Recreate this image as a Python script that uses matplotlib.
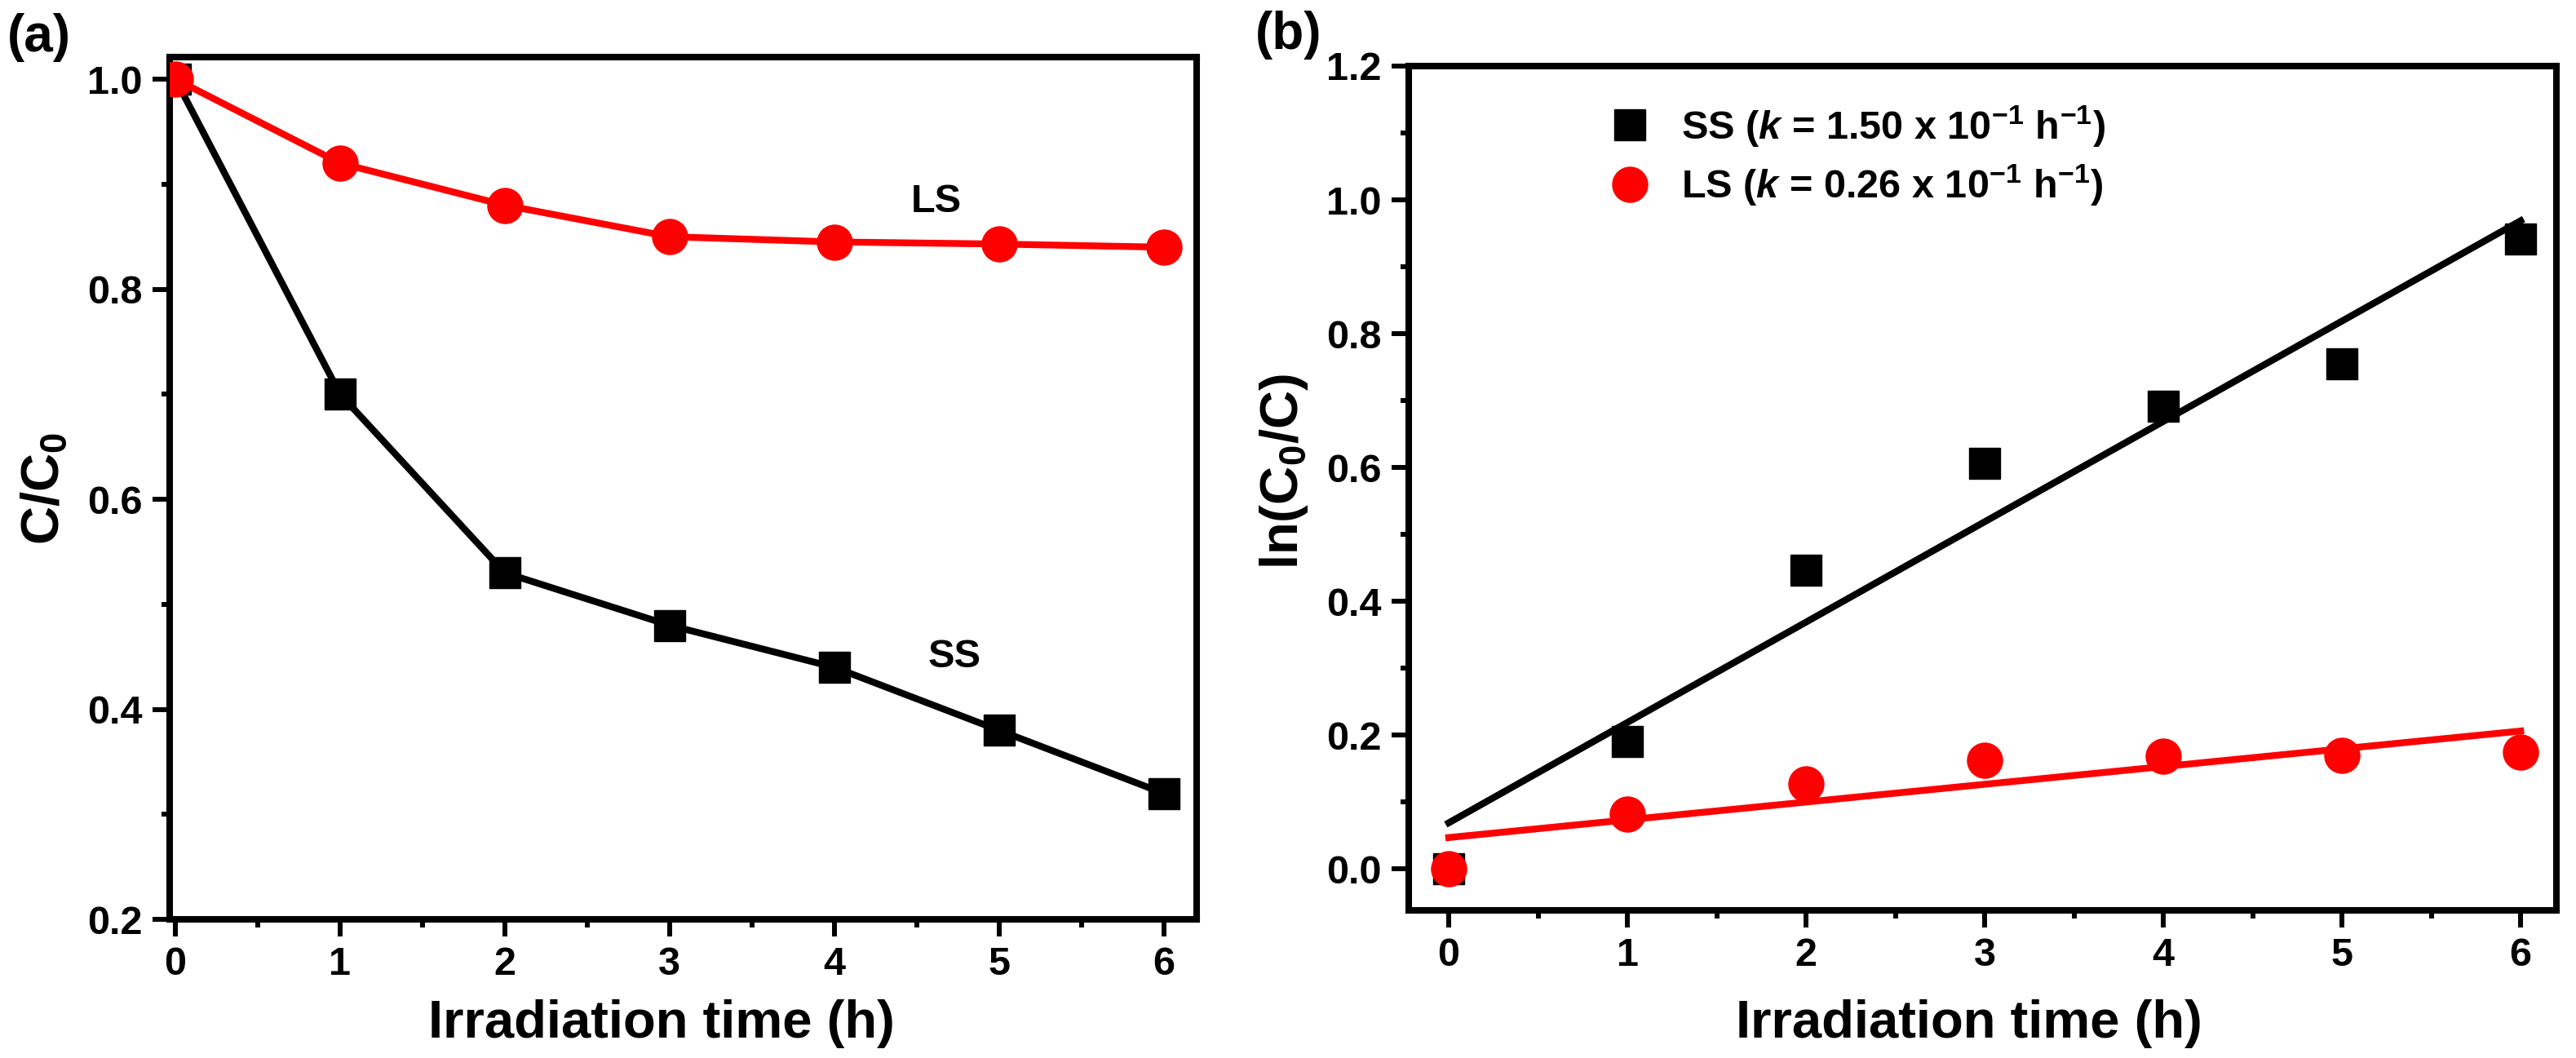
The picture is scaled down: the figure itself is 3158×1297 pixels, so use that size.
import numpy as np
import matplotlib
matplotlib.use("Agg")
import matplotlib.pyplot as plt
import matplotlib.font_manager as fm
from matplotlib.ticker import MultipleLocator

# data
time_h = [0, 1, 2, 3, 4, 5, 6]
ss_ratio = [1.0, 0.70, 0.53, 0.48, 0.44, 0.38, 0.32]
ls_ratio = [1.0, 0.92, 0.88, 0.85, 0.845, 0.843, 0.84]
ss_ln = [0.0, 0.191, 0.446, 0.606, 0.692, 0.755, 0.942]
ls_ln = [0.0, 0.082, 0.127, 0.162, 0.169, 0.170, 0.175]
ss_legend = r"SS ($\mathit{k}$ = 1.50 x 10$^{-1}$ h$^{-1}$)"
ls_legend = r"LS ($\mathit{k}$ = 0.26 x 10$^{-1}$ h$^{-1}$)"

names = {f.name for f in fm.fontManager.ttflist}
fam = "Liberation Sans Narrow" if "Liberation Sans Narrow" in names else "Liberation Sans"
plt.rcParams["font.family"] = [fam, "DejaVu Sans"]
plt.rcParams["font.weight"] = "bold"
plt.rcParams["mathtext.fontset"] = "custom"
plt.rcParams["mathtext.rm"] = fam + ":bold"
plt.rcParams["mathtext.bf"] = fam + ":bold"
plt.rcParams["mathtext.it"] = fam + ":italic:bold"
plt.rcParams["mathtext.default"] = "rm"

TICK = 35
LABEL = 47
LW = 6

fig = plt.figure(figsize=(31.58, 12.97), dpi=100)
ax1 = fig.add_axes([0.06586, 0.13107, 0.39867, 0.81496])
ax2 = fig.add_axes([0.54686, 0.13955, 0.44553, 0.79800])


def style(ax):
    for s in ax.spines.values():
        s.set_linewidth(5.8)
    ax.tick_params(which="major", direction="out", length=15, width=4.3,
                   labelsize=TICK, pad=9, top=False, right=False)
    ax.tick_params(which="minor", direction="out", length=7.5, width=4.3,
                   top=False, right=False)
    ax.xaxis.set_major_locator(MultipleLocator(1))
    ax.xaxis.set_minor_locator(MultipleLocator(0.5))
    for t in ax.get_xticklabels() + ax.get_yticklabels():
        t.set_fontweight("bold")
    for line in ax.xaxis.get_ticklines(minor=True) + ax.yaxis.get_ticklines(minor=True) \
            + ax.xaxis.get_ticklines() + ax.yaxis.get_ticklines():
        line.set_solid_capstyle("round")


# (a)
ax1.plot(time_h, ss_ratio, color="black", lw=LW, marker="s", ms=28, zorder=3)
ax1.plot(time_h, ls_ratio, color="red", lw=LW, marker="o", ms=31, zorder=4)
ax1.set_xlim(-0.035, 6.2)
ax1.set_ylim(0.2, 1.021)
ax1.yaxis.set_major_locator(MultipleLocator(0.2))
ax1.yaxis.set_minor_locator(MultipleLocator(0.1))
style(ax1)
ax1.text(4.62, 0.883, "LS", fontsize=TICK, fontweight="bold", ha="center", va="center")
ax1.text(4.73, 0.45, "SS", fontsize=TICK, fontweight="bold", ha="center", va="center")
ax1.set_xlabel("Irradiation time (h)", fontsize=LABEL, fontweight="bold")
ax1.set_ylabel("C/C$_0$", fontsize=LABEL, fontweight="bold")
ax1.xaxis.set_label_coords(0.479, -0.121)
ax1.xaxis.label.set_va("center")
ax1.yaxis.set_label_coords(-0.1215, 0.5)
ax1.yaxis.label.set_va("center")

# (b)
xs = np.array(time_h)
p_ss = np.polyfit(xs, ss_ln, 1)
p_ls = np.polyfit(xs, ls_ln, 1)
ax2.plot(xs, np.polyval(p_ss, xs), color="black", lw=LW, zorder=2)
ax2.plot(xs, np.polyval(p_ls, xs), color="red", lw=LW, zorder=2)
h1, = ax2.plot(time_h, ss_ln, ls="none", color="black", marker="s", ms=28, zorder=3)
h2, = ax2.plot(time_h, ls_ln, ls="none", color="red", marker="o", ms=31, zorder=4)
ax2.set_xlim(-0.224, 6.2)
ax2.set_ylim(-0.062, 1.2)
ax2.yaxis.set_major_locator(MultipleLocator(0.2))
ax2.yaxis.set_minor_locator(MultipleLocator(0.1))
style(ax2)
ax2.set_xlabel("Irradiation time (h)", fontsize=LABEL, fontweight="bold")
ax2.set_ylabel("ln(C$_0$/C)", fontsize=LABEL, fontweight="bold")
ax2.xaxis.set_label_coords(0.488, -0.134)
ax2.xaxis.label.set_va("center")
ax2.yaxis.set_label_coords(-0.109, 0.52)
ax2.yaxis.label.set_va("center")
ax2.legend([h1, h2], [ss_legend, ls_legend], loc="center left",
           bbox_to_anchor=(0.1755, 0.8937), frameon=False,
           borderpad=0, borderaxespad=0, handlelength=1.0, handletextpad=0.8,
           labelspacing=0.35, prop={"weight": "bold", "size": TICK})

fig.text(48 / 3158, 1 - 46 / 1297, "(a)", fontsize=46, fontweight="bold",
         ha="center", va="center")
fig.text(1580 / 3158, 1 - 43 / 1297, "(b)", fontsize=46, fontweight="bold",
         ha="center", va="center")

fig.savefig("out.png", dpi=100)
